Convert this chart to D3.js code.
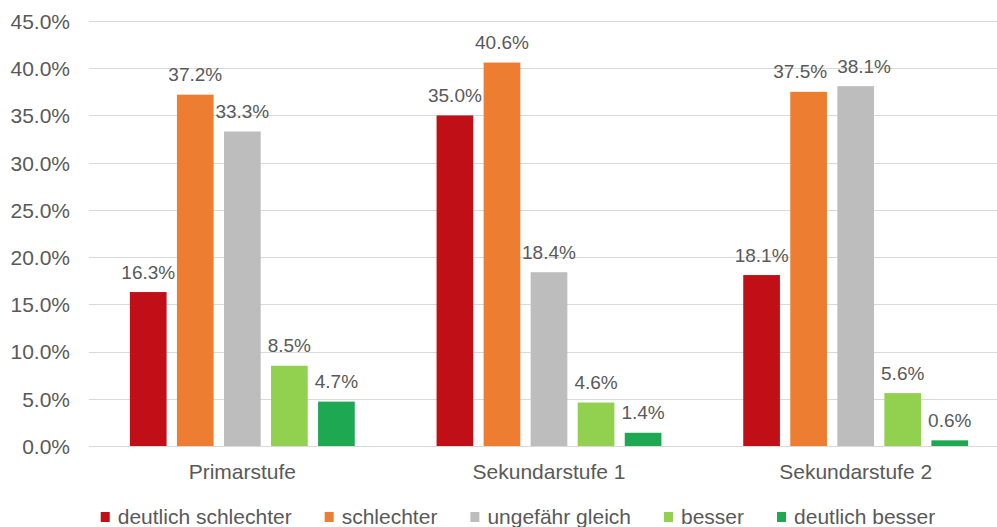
<!DOCTYPE html>
<html><head><meta charset="utf-8">
<script src="https://cdn.jsdelivr.net/npm/d3@7"></script>
<style>
body{margin:0;background:#fff}
svg text{font-family:"Liberation Sans",Arial,sans-serif;fill:#595959}
</style>
</head><body>
<svg id="chart" width="997" height="527"></svg>
<script>
// ---- data ----
const categories = ["Primarstufe", "Sekundarstufe 1", "Sekundarstufe 2"];
const seriesNames = ["deutlich schlechter", "schlechter", "ungefähr gleich", "besser", "deutlich besser"];
const deutlichSchlechter = [16.3, 35.0, 18.1];
const schlechter = [37.2, 40.6, 37.5];
const ungefaehrGleich = [33.3, 18.4, 38.1];
const besser = [8.5, 4.6, 5.6];
const deutlichBesser = [4.7, 1.4, 0.6];
const yTickValues = [0, 5, 10, 15, 20, 25, 30, 35, 40, 45];
const seriesColors = ["#C00F16", "#ED7D31", "#BDBDBD", "#92D050", "#1FA852"];

const seriesValues = [deutlichSchlechter, schlechter, ungefaehrGleich, besser, deutlichBesser];

// ---- layout ----
const svg = d3.select("#chart");
const axisFs = 21;
const labelFs = 19;
const plot = {left: 89, right: 1009, top: 21, bottom: 446};

const x0 = d3.scaleBand().domain(categories).range([plot.left, plot.right])
  .paddingInner(0.233).paddingOuter(0.1165);
const x1 = d3.scaleBand().domain(seriesNames).range([0, x0.bandwidth()])
  .paddingInner(0.22).paddingOuter(0.11);
const y = d3.scaleLinear().domain([0, 45]).range([plot.bottom, plot.top]);

// gridlines
svg.append("g").selectAll("line").data(yTickValues).join("line")
  .attr("x1", plot.left).attr("x2", 997)
  .attr("y1", d => Math.round(y(d)) + 0.5).attr("y2", d => Math.round(y(d)) + 0.5)
  .attr("stroke", "#D9D9D9").attr("stroke-width", 1);

// y axis labels
const yAxis = d3.axisLeft(y).tickValues(yTickValues).tickFormat(d => d.toFixed(1) + "%").tickSize(0).tickPadding(0);
const yg = svg.append("g").attr("transform", "translate(70,0)").call(yAxis);
yg.select(".domain").remove();
yg.selectAll("text").attr("font-size", axisFs).attr("font-family", null).attr("fill", "#595959").attr("dy", "0.35em");

// x axis labels
const xAxis = d3.axisBottom(x0).tickSize(0).tickPadding(0);
const xg = svg.append("g").attr("transform", `translate(0,${plot.bottom})`).call(xAxis);
xg.select(".domain").remove();
xg.selectAll("text").attr("font-size", axisFs).attr("font-family", null).attr("fill", "#595959")
  .attr("y", 26).attr("dy", "0.35em");

// bars
const flat = [];
categories.forEach((c, ci) => seriesNames.forEach((s, si) => flat.push({c, s, si, v: seriesValues[si][ci]})));

const groups = svg.append("g").selectAll("g").data(categories).join("g")
  .attr("transform", d => `translate(${x0(d)},0)`);

groups.selectAll("rect").data(c => flat.filter(f => f.c === c)).join("rect")
  .attr("x", d => x1(d.s)).attr("width", x1.bandwidth())
  .attr("y", d => y(d.v)).attr("height", d => y(0) - y(d.v))
  .attr("fill", d => seriesColors[d.si]);

// data labels
groups.selectAll("text.lbl").data(c => flat.filter(f => f.c === c)).join("text")
  .attr("class", "lbl")
  .attr("x", d => x1(d.s) + x1.bandwidth() / 2)
  .attr("y", d => y(d.v) - 13.5)
  .attr("text-anchor", "middle")
  .attr("font-size", labelFs)
  .text(d => d.v.toFixed(1) + "%");

// resolve overlapping neighbouring labels
groups.each(function() {
  const ls = d3.select(this).selectAll("text.lbl").nodes();
  for (let i = 0; i < ls.length - 1; i++) {
    const a = ls[i], b = ls[i + 1];
    const ya = +a.getAttribute("y"), yb = +b.getAttribute("y");
    if (Math.abs(ya - yb) > labelFs) continue;
    const wa = a.getComputedTextLength(), wb = b.getComputedTextLength();
    const xa = +a.getAttribute("x"), xb = +b.getAttribute("x");
    const overlap = (xa + wa / 2 + 10) - (xb - wb / 2);
    if (overlap > 0) {
      a.setAttribute("x", xa - overlap / 2);
      b.setAttribute("x", xb + overlap / 2);
    }
  }
});

// legend
const legend = svg.append("g");
const items = legend.selectAll("g").data(seriesNames).join("g");
items.append("rect").attr("width", 9).attr("height", 10).attr("y", -5)
  .attr("fill", (d, i) => seriesColors[i]);
items.append("text").attr("x", 17).attr("y", 0).attr("dy", "0.35em").attr("font-size", axisFs).text(d => d);
const widths = items.nodes().map(n => n.getBBox().width);
const gap = 33;
const total = d3.sum(widths) + gap * (widths.length - 1);
let start = 518 - total / 2;
items.attr("transform", (d, i) => {
  const t = `translate(${start},517)`;
  start += widths[i] + gap;
  return t;
});
</script>
</body></html>
